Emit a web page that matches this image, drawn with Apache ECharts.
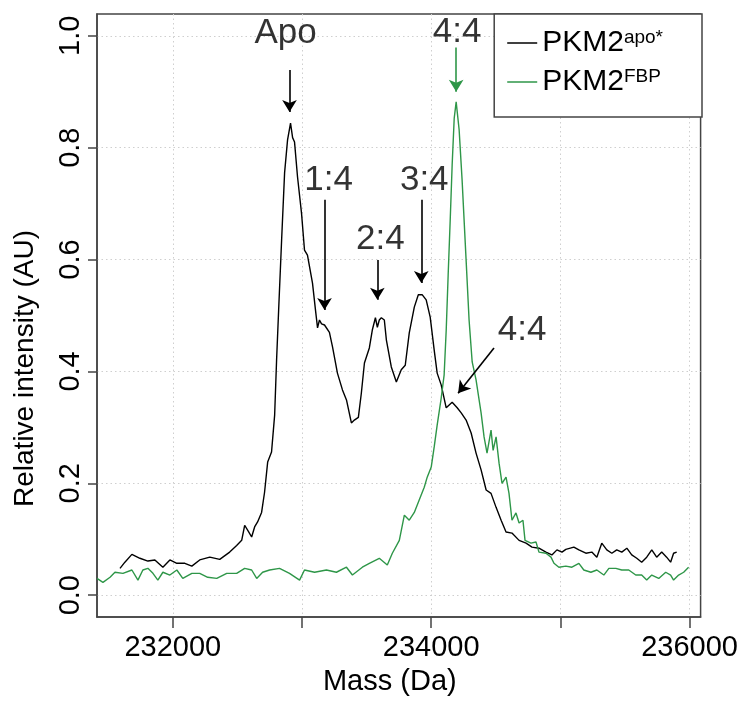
<!DOCTYPE html>
<html>
<head>
<meta charset="utf-8">
<script src="https://cdn.jsdelivr.net/npm/echarts@6/dist/echarts.min.js"></script>
<style>
  html, body { margin: 0; background: #fff; }
  #chart { width: 741px; height: 703px; }
</style>
</head>
<body>
<div id="chart"></div>
<script>
// Spectra: [mass (Da), relative intensity]
const apoSpectrum = [
  [231591,0.048],[231629,0.059],[231683,0.073],[231745,0.066],[231807,0.061],[231861,0.063],
  [231923,0.050],[231977,0.063],[232031,0.057],[232093,0.057],[232147,0.052],[232208,0.063],
  [232286,0.068],[232363,0.064],[232440,0.077],[232494,0.089],[232533,0.098],[232556,0.125],
  [232587,0.113],[232610,0.104],[232633,0.122],[232656,0.131],[232687,0.148],[232710,0.184],
  [232734,0.238],[232764,0.256],[232788,0.322],[232803,0.420],[232819,0.510],[232842,0.635],
  [232865,0.755],[232888,0.814],[232911,0.844],[232927,0.818],[232942,0.810],[232965,0.748],
  [232996,0.683],[233019,0.617],[233042,0.608],[233081,0.558],[233104,0.510],[233120,0.478],
  [233135,0.492],[233151,0.485],[233174,0.483],[233212,0.470],[233236,0.444],[233274,0.397],
  [233313,0.367],[233344,0.349],[233382,0.308],[233405,0.313],[233436,0.318],[233459,0.361],
  [233483,0.415],[233521,0.442],[233544,0.474],[233568,0.496],[233583,0.479],[233598,0.492],
  [233614,0.496],[233637,0.492],[233653,0.456],[233691,0.408],[233730,0.381],[233768,0.403],
  [233799,0.411],[233830,0.469],[233869,0.515],[233900,0.537],[233931,0.537],[233961,0.528],
  [233992,0.497],[234023,0.438],[234046,0.397],[234077,0.376],[234116,0.335],[234139,0.340],
  [234162,0.345],[234201,0.335],[234232,0.326],[234270,0.313],[234309,0.290],[234347,0.254],
  [234386,0.224],[234425,0.188],[234463,0.182],[234502,0.157],[234541,0.134],[234579,0.113],
  [234625,0.111],[234680,0.098],[234734,0.093],[234780,0.086],[234834,0.084],[234888,0.077],
  [234934,0.072],[234973,0.081],[235012,0.077],[235042,0.082],[235104,0.086],[235143,0.081],
  [235197,0.075],[235243,0.077],[235282,0.068],[235320,0.093],[235359,0.081],[235398,0.075],
  [235436,0.081],[235475,0.077],[235514,0.084],[235552,0.072],[235591,0.066],[235629,0.059],
  [235668,0.068],[235707,0.081],[235745,0.068],[235784,0.077],[235822,0.068],[235853,0.059],
  [235876,0.075],[235900,0.077]
];

const fbpSpectrum = [
  [231413,0.030],[231459,0.023],[231514,0.032],[231552,0.041],[231614,0.039],[231683,0.045],
  [231730,0.027],[231768,0.045],[231807,0.048],[231846,0.039],[231884,0.027],[231923,0.041],
  [231977,0.036],[232031,0.045],[232077,0.030],[232147,0.039],[232208,0.039],[232270,0.032],
  [232340,0.030],[232417,0.039],[232494,0.039],[232556,0.048],[232610,0.045],[232649,0.030],
  [232695,0.041],[232749,0.045],[232826,0.048],[232903,0.039],[232981,0.027],[233019,0.045],
  [233097,0.041],[233189,0.045],[233266,0.041],[233344,0.050],[233390,0.036],[233467,0.050],
  [233521,0.057],[233598,0.066],[233660,0.054],[233699,0.075],[233753,0.098],[233792,0.143],
  [233830,0.134],[233869,0.148],[233907,0.170],[233946,0.193],[233969,0.211],[234000,0.229],
  [234023,0.265],[234046,0.304],[234077,0.352],[234100,0.394],[234116,0.474],[234131,0.572],
  [234147,0.671],[234162,0.769],[234178,0.853],[234193,0.882],[234216,0.832],[234239,0.742],
  [234270,0.599],[234293,0.492],[234317,0.417],[234347,0.385],[234386,0.326],[234409,0.283],
  [234432,0.254],[234463,0.295],[234479,0.259],[234502,0.283],[234525,0.236],[234548,0.200],
  [234579,0.211],[234602,0.182],[234625,0.134],[234656,0.147],[234680,0.129],[234710,0.134],
  [234726,0.098],[234772,0.093],[234811,0.095],[234834,0.077],[234888,0.075],[234927,0.068],
  [234950,0.057],[234988,0.050],[235042,0.052],[235089,0.050],[235143,0.057],[235181,0.045],
  [235236,0.041],[235282,0.045],[235336,0.036],[235375,0.048],[235429,0.048],[235475,0.045],
  [235529,0.045],[235583,0.036],[235629,0.036],[235668,0.027],[235707,0.036],[235761,0.030],
  [235815,0.041],[235853,0.036],[235876,0.027],[235915,0.036],[235954,0.041],[235992,0.050]
];

// Axis ticks
const massTicks = [232000, 233000, 234000, 235000, 236000];
const massLabels = [232000, 234000, 236000];
const intensityTicks = [0, 0.2, 0.4, 0.6, 0.8, 1.0];

// Peak annotations: text, text position, arrow start, arrow tip
const noteText = ["Apo", "1:4", "2:4", "3:4", "4:4", "4:4"];
const notePos = [[232873,1.005],[233205,0.742],[233606,0.637],[233946,0.742],[234201,1.007],[234703,0.474]];
const arrowFrom = [[232903,0.939],[233174,0.707],[233583,0.599],[233923,0.707],[234193,0.979],[234486,0.442]];
const arrowTo = [[232903,0.864],[233174,0.510],[233583,0.528],[233923,0.558],[234193,0.900],[234208,0.361]];
const arrowGreen = [false, false, false, false, true, false];

const font = "'Liberation Sans', Arial, Helvetica, sans-serif";
const green = "#2e9648";
const frame = "#444";

let chart = echarts.init(document.getElementById("chart"));

let option = {
  animation: false,
  backgroundColor: "#fff",
  grid: {
    left: 97, top: 14, right: 39, bottom: 86,
    show: true, borderColor: frame, borderWidth: 1.5, backgroundColor: "transparent"
  },
  legend: {
    data: ["apo*", "FBP"],
    orient: "vertical",
    right: 39, top: 14,
    icon: "rect",
    itemWidth: 30, itemHeight: 1.5, itemGap: 9,
    padding: [14, 39, 20, 13],
    borderColor: frame, borderWidth: 1.5, borderRadius: 0,
    backgroundColor: "#fff",
    formatter: (n) => "{a|PKM2}{b|" + n + "}",
    textStyle: {
      rich: {
        a: { fontSize: 30, fontFamily: font, color: "#000", lineHeight: 30 },
        b: { fontSize: 19, fontFamily: font, color: "#000", lineHeight: 20, verticalAlign: "top" }
      }
    }
  },
  xAxis: {
    type: "value",
    min: 231413, max: 236085,
    name: "Mass (Da)", nameLocation: "middle", nameGap: 50, nameMoveOverlap: false,
    nameTextStyle: { fontSize: 29, fontFamily: font, color: "#000", padding: [0, 18, 0, 0] },
    axisLine: { show: true, onZero: false, lineStyle: { color: frame, width: 1.5 } },
    axisTick: { show: true, length: 11, customValues: massTicks, lineStyle: { color: frame, width: 1.5 } },
    axisLabel: {
      customValues: massLabels, margin: 16,
      fontSize: 29, fontFamily: font, color: "#000",
      formatter: (v) => String(v)
    },
    splitLine: { show: true, lineStyle: { color: "#cfcfcf", type: [1.5, 3], width: 1 } }
  },
  yAxis: {
    type: "value",
    min: -0.039, max: 1.039,
    name: "Relative intensity (AU)", nameLocation: "middle", nameGap: 58, nameMoveOverlap: false,
    nameTextStyle: { fontSize: 28, fontFamily: font, color: "#000", padding: [0, 106, 0, 0] },
    axisLine: { show: true, onZero: false, lineStyle: { color: frame, width: 1.5 } },
    axisTick: { show: true, length: 9, customValues: intensityTicks, lineStyle: { color: frame, width: 1.5 } },
    axisLabel: {
      customValues: intensityTicks, rotate: 90, margin: 12,
      fontSize: 29, fontFamily: font, color: "#000",
      formatter: (v) => v.toFixed(1)
    },
    splitLine: { show: true, lineStyle: { color: "#cfcfcf", type: [1.5, 3], width: 1 } }
  },
  series: [
    {
      name: "apo*", type: "line", data: apoSpectrum,
      symbol: "none", showSymbol: false,
      lineStyle: { color: "#000", width: 1.4 }, itemStyle: { color: "#000" }
    },
    {
      name: "FBP", type: "line", data: fbpSpectrum,
      symbol: "none", showSymbol: false,
      lineStyle: { color: green, width: 1.4 }, itemStyle: { color: green }
    },
    {
      name: "notes", type: "scatter", silent: true,
      symbolSize: 1, itemStyle: { color: "transparent" },
      data: noteText.map((t, i) => ({ name: t, value: notePos[i] })),
      label: {
        show: true, position: "inside", formatter: "{b}",
        fontSize: 35, fontFamily: font, color: "#000"
      },
      markLine: {
        silent: true, animation: false,
        symbol: ["none", "arrow"], symbolSize: [11, 12],
        label: { show: false },
        lineStyle: { color: "#000", width: 1.6, type: "solid" },
        data: arrowFrom.map((p, i) => [
          { coord: p, lineStyle: { color: arrowGreen[i] ? green : "#000" } },
          { coord: arrowTo[i] }
        ])
      }
    }
  ]
};

chart.setOption(option);
</script>
</body>
</html>
